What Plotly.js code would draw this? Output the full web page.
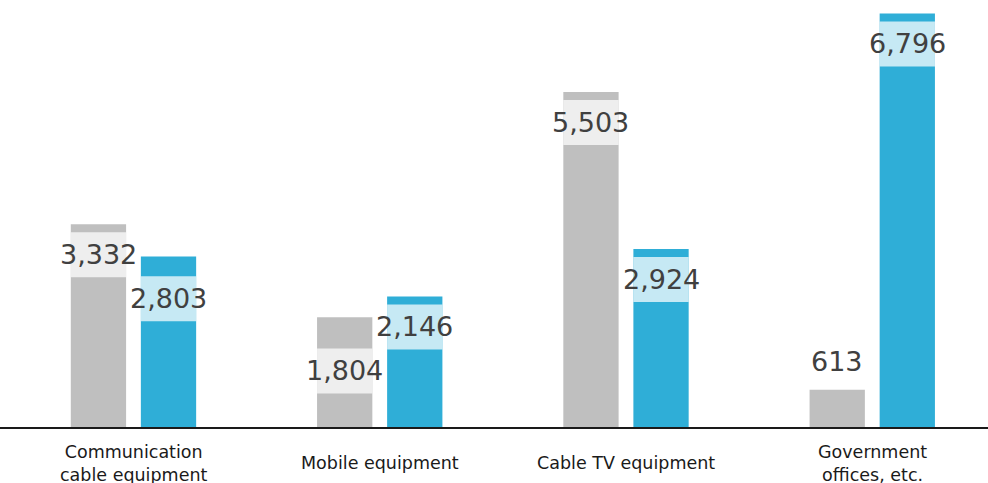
<!DOCTYPE html>
<html>
<head>
<meta charset="utf-8">
<script src="https://cdn.plot.ly/plotly-3.0.1.min.js"></script>
<style>html,body{margin:0;padding:0;background:#fff;}#chart{width:988px;height:483px;}</style>
</head>
<body>
<div id="chart"></div>
<script>
const categories = ["Communication<br>cable equipment", "Mobile equipment", "Cable TV equipment", "Government<br>offices, etc."];
const seriesGrey = [3332, 1804, 5503, 613];
const seriesBlue = [2803, 2146, 2924, 6796];

const W = 988, H = 483;
const M = {l: 0, r: 0, t: 1, b: 56};
const Y_MAX = 7000;
const X_RANGE = [-0.542, 3.47];
const BAR_W = 0.2245, GAP = 0.06;
const offGrey = -(BAR_W + GAP / 2), offBlue = GAP / 2;
const ppu = (H - M.t - M.b) / Y_MAX; // pixels per unit
const BOX_OFF = 8, BOX_H = 45;
const LABEL_FONT = {family: "DejaVu Sans", size: 27, color: "#404040"};
const CAT_FONT = {family: "DejaVu Sans", size: 17.5, color: "#1a1a1a"};

const fmt = v => v.toLocaleString("en-US");
const xIdx = categories.map((_, i) => i);

const traces = [
  {type: "bar", x: xIdx, y: seriesGrey, width: BAR_W, offset: offGrey,
   marker: {color: "#bfbfbf"}, hoverinfo: "skip", showlegend: false},
  {type: "bar", x: xIdx, y: seriesBlue, width: BAR_W, offset: offBlue,
   marker: {color: "#2faed7"}, hoverinfo: "skip", showlegend: false}
];

const shapes = [], annotations = [];
categories.forEach((c, i) => {
  const items = [
    {v: seriesGrey[i], xc: i + offGrey + BAR_W / 2},
    {v: seriesBlue[i], xc: i + offBlue + BAR_W / 2}
  ];
  items.forEach(it => {
    const barH = it.v * ppu;
    if (barH < BOX_OFF + BOX_H) { it.outside = true; it.top = -(BOX_H + 6); }
    else { it.outside = false; it.top = BOX_OFF; }
    it.absTop = barH - it.top;
  });
  const [a, b] = items[0].v >= items[1].v ? [items[0], items[1]] : [items[1], items[0]];
  const tallBottom = a.absTop - BOX_H;
  if (!b.outside && b.absTop > tallBottom) {
    b.absTop = tallBottom + 1;
    b.top = b.v * ppu - b.absTop;
  }
  items.forEach(it => {
    if (!it.outside) {
      shapes.push({type: "rect", layer: "above", xref: "x", yref: "y", ysizemode: "pixel",
        yanchor: it.v, x0: it.xc - BAR_W / 2, x1: it.xc + BAR_W / 2,
        y0: -it.top, y1: -(it.top + BOX_H),
        fillcolor: "rgba(255,255,255,0.73)", line: {width: 0}});
    }
    annotations.push({xref: "x", yref: "y", x: it.xc, y: it.v, text: fmt(it.v),
      showarrow: false, xanchor: "center", yanchor: "middle",
      yshift: -(it.top + BOX_H / 2), font: LABEL_FONT});
  });
  // category label below the axis, vertically centred
  annotations.push({xref: "x", yref: "paper", x: i, y: 0, text: c, showarrow: false,
    xanchor: "center", yanchor: "middle", yshift: -36, align: "center", font: CAT_FONT});
});

const layout = {
  width: W, height: H, margin: M,
  paper_bgcolor: "#fff", plot_bgcolor: "#fff",
  barmode: "overlay",
  xaxis: {type: "linear", range: X_RANGE, showticklabels: false,
    showgrid: false, zeroline: false, showline: true, linecolor: "#1a1a1a", linewidth: 2,
    ticks: "", fixedrange: true},
  yaxis: {range: [0, Y_MAX], showgrid: false, zeroline: false, showticklabels: false, showline: false, fixedrange: true},
  shapes: shapes, annotations: annotations
};
Plotly.newPlot("chart", traces, layout, {displayModeBar: false, staticPlot: true});
</script>
</body>
</html>
